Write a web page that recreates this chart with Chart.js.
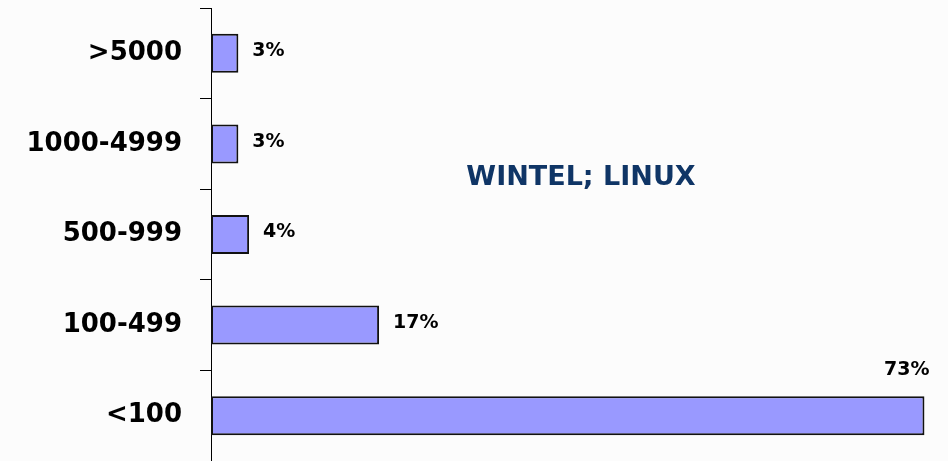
<!DOCTYPE html>
<html>
<head>
<meta charset="utf-8">
<script src="https://cdn.jsdelivr.net/npm/chart.js@4/dist/chart.umd.min.js"></script>
<style>
  html, body { margin: 0; padding: 0; background: #fcfcfc; }
  #wrap { width: 948px; height: 461px; }
</style>
</head>
<body>
<div id="wrap"><canvas id="myChart"></canvas></div>
<script>
// company size bands, top to bottom
var categories = ['>5000', '1000-4999', '500-999', '100-499', '<100'];
// share of respondents (%)
var shares = [2.8, 2.8, 3.9, 17.2, 73];
// labels printed next to the bars
var shareLabels = ['3%', '3%', '4%', '17%', '73%'];
var noteText = 'WINTEL; LINUX';

var FONT = '"DejaVu Sans", sans-serif';

// writes the % labels and the note inside the plot
var valueLabels = {
    id: 'valueLabels',
    afterDatasetsDraw: function(chart){
        var ctx = chart.ctx;
        var area = chart.chartArea;
        var meta = chart.getDatasetMeta(0);
        ctx.save();
        ctx.font = 'bold 19px ' + FONT;
        ctx.fillStyle = '#000';
        meta.data.forEach(function(bar, i){
            var txt = shareLabels[i];
            var w = ctx.measureText(txt).width;
            if (bar.x + 14 + w < area.right) {
                ctx.textAlign = 'left';
                ctx.textBaseline = 'middle';
                ctx.fillText(txt, bar.x + 14, bar.y - 2);
            } else {
                // no room on the right: put it above the bar end
                ctx.textAlign = 'right';
                ctx.textBaseline = 'middle';
                ctx.fillText(txt, bar.x + 5, bar.y - bar.height / 2 - 26);
            }
        });
        ctx.font = 'bold 27px ' + FONT;
        ctx.fillStyle = '#0f3566';
        ctx.textAlign = 'center';
        ctx.textBaseline = 'middle';
        ctx.fillText(noteText, 581, 178);
        ctx.restore();
    }
};

var ctx = document.getElementById('myChart').getContext('2d');
var chart = new Chart(ctx, {
    type: 'bar',
    data: {
        labels: categories,
        datasets: [{
            data: shares,
            backgroundColor: '#9999ff',
            borderColor: '#111',
            borderWidth: 2,
            borderSkipped: false,
            barPercentage: 0.43,
            categoryPercentage: 1
        }]
    },
    options: {
        indexAxis: 'y',
        responsive: true,
        maintainAspectRatio: false,
        animation: false,
        layout: { padding: { top: 8, right: 4, bottom: 0, left: 0 } },
        plugins: {
            legend: { display: false },
            tooltip: { enabled: false }
        },
        scales: {
            x: {
                display: false,
                min: 0,
                max: 75
            },
            y: {
                offset: true,
                afterFit: function(scale){
                    scale.width = 211;
                    scale.paddingTop = 0;
                    scale.paddingBottom = 0;
                },
                border: { display: true, color: '#000', width: 1 },
                grid: {
                    offset: true,
                    drawOnChartArea: false,
                    drawTicks: true,
                    tickLength: 11,
                    color: '#000'
                },
                ticks: {
                    padding: 18,
                    color: '#000',
                    font: { family: FONT, size: 26, weight: 'bold' }
                }
            }
        }
    },
    plugins: [valueLabels]
});
</script>
</body>
</html>
